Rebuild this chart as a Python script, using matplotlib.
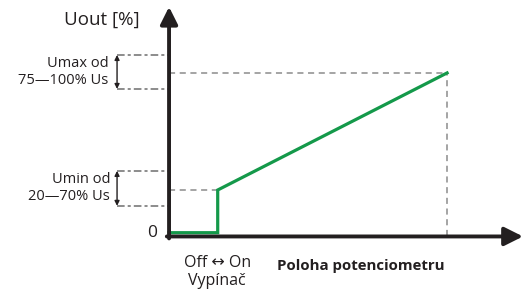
import matplotlib
matplotlib.use("Agg")
import matplotlib.pyplot as plt

plt.rcParams['font.family'] = ['Open Sans', 'DejaVu Sans']

# potentiometer position (x) vs output voltage (y), in chart units
pot_pos = [0, 17.5, 17.5, 100]
uout = [2.3, 2.3, 28.4, 100]
switch_pos = 17.5
umin_level = 28.4
umax_level = 100
umax_range = [90.2, 111.0]
umin_range = [18.7, 40.1]
x_arrow_end = 127.3
y_arrow_end = 140.4

green = '#14994a'
dark = '#231f20'
gray = '#8c8c8c'

fig = plt.figure(figsize=(5.28, 2.95), dpi=100)
ax = fig.add_axes([0, 0, 1, 1])
ax.set_xlim(-60.8, 129.1)
ax.set_ylim(-35.8, 144.6)
ax.axis('off')

# reference dashed lines
ax.plot([0, 100], [umax_level, umax_level], color=gray, lw=1.1, ls=(0, (4, 3)))
ax.plot([100, 100], [0, umax_level], color=gray, lw=1.1, ls=(0, (4, 3)))
ax.plot([0, switch_pos], [umin_level, umin_level], color=gray, lw=1.1, ls=(0, (4, 3)))

# bracket lines (dash-dot)
for r in (umax_range, umin_range):
    for yv in r:
        ax.plot([-18.7, -0.5], [yv, yv], color='#6e6e6e', lw=1.1, ls=(0, (5, 2, 2, 2)))
    ax.annotate('', xy=(-18.7, r[1]), xytext=(-18.7, r[0]),
                arrowprops=dict(arrowstyle='<|-|>', color=dark, lw=1.0,
                                mutation_scale=7, shrinkA=0, shrinkB=0))

# green characteristic
ax.plot(pot_pos, uout, color=green, lw=2.3, solid_joinstyle='miter', zorder=3)

# axes with arrows
ax.annotate('', xy=(0, y_arrow_end), xytext=(0, -1.2),
            arrowprops=dict(arrowstyle='-|>', color=dark, lw=2.8,
                            mutation_scale=26, shrinkA=0, shrinkB=0))
ax.annotate('', xy=(x_arrow_end, 0), xytext=(-0.8, 0),
            arrowprops=dict(arrowstyle='-|>', color=dark, lw=2.8,
                            mutation_scale=28, shrinkA=0, shrinkB=0))

# labels
ax.text(-24.1, 132.4, 'Uout [%]', fontsize=13.5, color=dark, ha='center', va='center')
ax.text(-21.9, 100.6, 'Umax od\n75—100% Us', fontsize=10.5, color=dark,
        ha='right', va='center', linespacing=1.2)
ax.text(-21.2, 29.7, 'Umin od\n20—70% Us', fontsize=10.5, color=dark,
        ha='right', va='center', linespacing=1.2)
ax.text(-6.1, 2.1, '0', fontsize=12.5, color=dark, ha='center', va='center')
ax.text(17.3, -16.2, 'Off ↔ On', fontsize=11.5, color=dark, ha='center', va='center')
ax.text(17.0, -27.2, 'Vypínač', fontsize=11.5, color=dark, ha='center', va='center')
ax.text(69.1, -18.0, 'Poloha potenciometru', fontsize=10.8, fontweight='bold',
        color=dark, ha='center', va='center')

fig.savefig('out.png', dpi=100)
